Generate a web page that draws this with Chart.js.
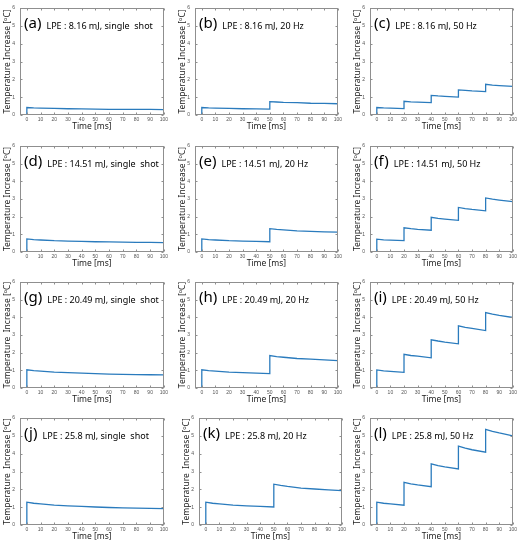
<!DOCTYPE html>
<html>
<head>
<meta charset="utf-8">
<script src="https://cdn.jsdelivr.net/npm/chart.js@4"></script>
<style>
body { margin: 0; background: #fff; width: 526px; height: 548px; position: relative; overflow: hidden; }
canvas { position: absolute; }
</style>
</head>
<body>
<script>
// time axes (ms), a repeated time means the vertical jump of a pulse
const tSingle = [-5, 0, 0, 5, 10, 20, 30, 40, 50, 60, 70, 80, 90, 100];
const t20Hz = [-5, 0, 0, 5, 10, 20, 30, 40, 50, 50, 55, 60, 70, 80, 90, 100];
const t50Hz = [-5, 0, 0, 5, 10, 20, 20, 25, 30, 40, 40, 45, 50, 60, 60, 65, 70, 80, 80, 85, 90, 100];

// temperature increase (°C)
const temp_a = [0, 0, 0.42, 0.40, 0.39, 0.37, 0.35, 0.34, 0.33, 0.32, 0.32, 0.31, 0.31, 0.30];
const temp_b = [0, 0, 0.42, 0.40, 0.39, 0.37, 0.35, 0.34, 0.33, 0.75, 0.73, 0.71, 0.69, 0.66, 0.65, 0.63];
const temp_c = [0, 0, 0.42, 0.40, 0.39, 0.36, 0.77, 0.74, 0.72, 0.69, 1.10, 1.07, 1.05, 1.00, 1.41, 1.38, 1.35, 1.31, 1.72, 1.68, 1.65, 1.60];
const temp_d = [0, 0, 0.74, 0.70, 0.68, 0.64, 0.62, 0.60, 0.58, 0.57, 0.56, 0.55, 0.54, 0.53];
const temp_e = [0, 0, 0.74, 0.70, 0.68, 0.64, 0.62, 0.60, 0.58, 1.32, 1.28, 1.25, 1.20, 1.17, 1.14, 1.12];
const temp_f = [0, 0, 0.73, 0.69, 0.67, 0.64, 1.37, 1.32, 1.28, 1.23, 1.96, 1.90, 1.86, 1.79, 2.52, 2.46, 2.41, 2.33, 3.06, 2.99, 2.94, 2.85];
const temp_g = [0, 0, 1.03, 0.98, 0.95, 0.90, 0.87, 0.84, 0.81, 0.79, 0.77, 0.76, 0.75, 0.74];
const temp_h = [0, 0, 1.03, 0.98, 0.95, 0.90, 0.87, 0.84, 0.81, 1.84, 1.78, 1.74, 1.67, 1.63, 1.59, 1.55];
const temp_i = [0, 0, 1.02, 0.97, 0.94, 0.89, 1.91, 1.84, 1.80, 1.71, 2.73, 2.66, 2.60, 2.50, 3.52, 3.43, 3.37, 3.25, 4.27, 4.18, 4.11, 3.99];
const temp_j = [0, 0, 1.28, 1.22, 1.18, 1.11, 1.07, 1.04, 1.01, 0.98, 0.96, 0.95, 0.93, 0.92];
const temp_k = [0, 0, 1.28, 1.22, 1.18, 1.11, 1.07, 1.04, 1.01, 2.29, 2.22, 2.16, 2.07, 2.02, 1.97, 1.93];
const temp_l = [0, 0, 1.28, 1.22, 1.18, 1.11, 2.39, 2.31, 2.25, 2.15, 3.43, 3.33, 3.26, 3.14, 4.42, 4.31, 4.22, 4.08, 5.36, 5.25, 5.16, 5.00];

const letters = ['(a)', '(b)', '(c)', '(d)', '(e)', '(f)', '(g)', '(h)', '(i)', '(j)', '(k)', '(l)'];
const energies = ['8.16', '14.51', '20.49', '25.8'];
const modes = ['single  shot', '20 Hz', '50 Hz'];
const xTicks = [0, 10, 20, 30, 40, 50, 60, 70, 80, 90, 100];
const yTicks = [0, 1, 2, 3, 4, 5, 6];

const times = [tSingle, t20Hz, t50Hz];
const temps = [
    [temp_a, temp_b, temp_c],
    [temp_d, temp_e, temp_f],
    [temp_g, temp_h, temp_i],
    [temp_j, temp_k, temp_l]
];

// plot box positions in the page
const colLeft = [20, 195, 370];
const colRight = [164, 338, 513];
const rowTop = [5, 143, 279, 415];
const rowBottom = [115, 252, 388, 525];

const lineColor = '#2a7bbd';
const yAxisW = 20;
const xAxisH = 18;
const padTop = 5;
const padRight = 6;

const decor = {
    id: 'decor',
    afterDraw(chart) {
        const o = chart.options.plugins.decor;
        const ctx = chart.ctx;
        const a = chart.chartArea;
        const sx = chart.scales.x;
        const sy = chart.scales.y;
        ctx.save();

        // box + inward ticks on all sides
        ctx.strokeStyle = '#8f8f8f';
        ctx.lineWidth = 1;
        const L = Math.round(a.left) + 0.5, R = Math.round(a.right) - 0.5;
        const T = Math.round(a.top) + 0.5, B = Math.round(a.bottom) - 0.5;
        ctx.strokeRect(L, T, R - L, B - T);
        ctx.beginPath();
        for (let v of xTicks) {
            const px = Math.round(sx.getPixelForValue(v)) + 0.5;
            ctx.moveTo(px, B); ctx.lineTo(px, B - 2);
            ctx.moveTo(px, T); ctx.lineTo(px, T + 2);
        }
        for (let v of yTicks) {
            const py = Math.round(sy.getPixelForValue(v)) + 0.5;
            ctx.moveTo(L, py); ctx.lineTo(L + 2, py);
            ctx.moveTo(R, py); ctx.lineTo(R - 2, py);
        }
        ctx.stroke();

        // panel letter and caption
        ctx.fillStyle = '#000';
        ctx.textBaseline = 'middle';
        ctx.textAlign = 'left';
        ctx.font = '15px "Noto Sans"';
        ctx.fillText(o.letter, a.left + 4, a.top + 16);
        const w = ctx.measureText(o.letter).width;
        ctx.font = '9px "Noto Sans"';
        ctx.fillText(o.caption, a.left + 4 + w + 5, a.top + 18);

        // x title
        ctx.fillStyle = '#222';
        ctx.textAlign = 'center';
        ctx.font = '8.5px "Noto Sans"';
        ctx.fillText('Time [ms]', (a.left + a.right) / 2, a.bottom + 12);

        // y title with superscript o
        ctx.translate(a.left - 12, (a.top + a.bottom) / 2);
        ctx.rotate(-Math.PI / 2);
        ctx.textAlign = 'left';
        const p1 = o.ylabel + ' [';
        const p2 = 'C]';
        ctx.font = '8.5px "Noto Sans"';
        const w1 = ctx.measureText(p1).width;
        const w3 = ctx.measureText(p2).width;
        ctx.font = '5.5px "Noto Sans"';
        const w2 = ctx.measureText('o').width;
        let x0 = -(w1 + w2 + w3) / 2;
        ctx.font = '8.5px "Noto Sans"';
        ctx.fillText(p1, x0, 0);
        ctx.font = '5.5px "Noto Sans"';
        ctx.fillText('o', x0 + w1, -3);
        ctx.font = '8.5px "Noto Sans"';
        ctx.fillText(p2, x0 + w1 + w2, 0);

        ctx.restore();
    }
};

for (let r = 0; r < 4; r++) {
    for (let c = 0; c < 3; c++) {
        let left = colLeft[c], right = colRight[c];
        if (r === 3 && c === 1) { left += 4; right += 4; }
        const top = rowTop[r], bottom = rowBottom[r];

        const canvas = document.createElement('canvas');
        const cl = left - yAxisW;
        const ct = top - padTop;
        canvas.width = right - cl + padRight;
        canvas.height = bottom - ct + xAxisH;
        canvas.style.left = cl + 'px';
        canvas.style.top = ct + 'px';
        document.body.appendChild(canvas);

        const ts = times[c];
        const ys = temps[r][c];
        const pts = ts.map((t, i) => ({ x: t, y: ys[i] }));

        new Chart(canvas, {
            type: 'line',
            data: {
                datasets: [{
                    data: pts,
                    borderColor: lineColor,
                    borderWidth: 1.3,
                    pointRadius: 0,
                    tension: 0,
                    fill: false
                }]
            },
            options: {
                responsive: false,
                animation: false,
                layout: { padding: { top: padTop, right: padRight, left: 0, bottom: 0 } },
                plugins: {
                    legend: { display: false },
                    tooltip: { enabled: false },
                    decor: {
                        letter: letters[r * 3 + c],
                        caption: 'LPE : ' + energies[r] + ' mJ, ' + modes[c],
                        ylabel: r >= 2 ? 'Temperature  Increase' : 'Temperature Increase'
                    }
                },
                scales: {
                    x: {
                        type: 'linear',
                        min: -5,
                        max: 100,
                        afterBuildTicks: s => { s.ticks = xTicks.map(v => ({ value: v })); },
                        afterFit: s => { s.height = xAxisH; },
                        grid: { display: false, drawTicks: false },
                        border: { display: false },
                        ticks: { autoSkip: false, maxRotation: 0, padding: 2, color: '#555', font: { size: 5 } }
                    },
                    y: {
                        min: 0,
                        max: 6,
                        afterBuildTicks: s => { s.ticks = yTicks.map(v => ({ value: v })); },
                        afterFit: s => { s.width = yAxisW; },
                        grid: { display: false, drawTicks: false },
                        border: { display: false },
                        ticks: { padding: 5, color: '#555', font: { size: 5 } }
                    }
                }
            },
            plugins: [decor]
        });
    }
}
</script>
</body>
</html>
